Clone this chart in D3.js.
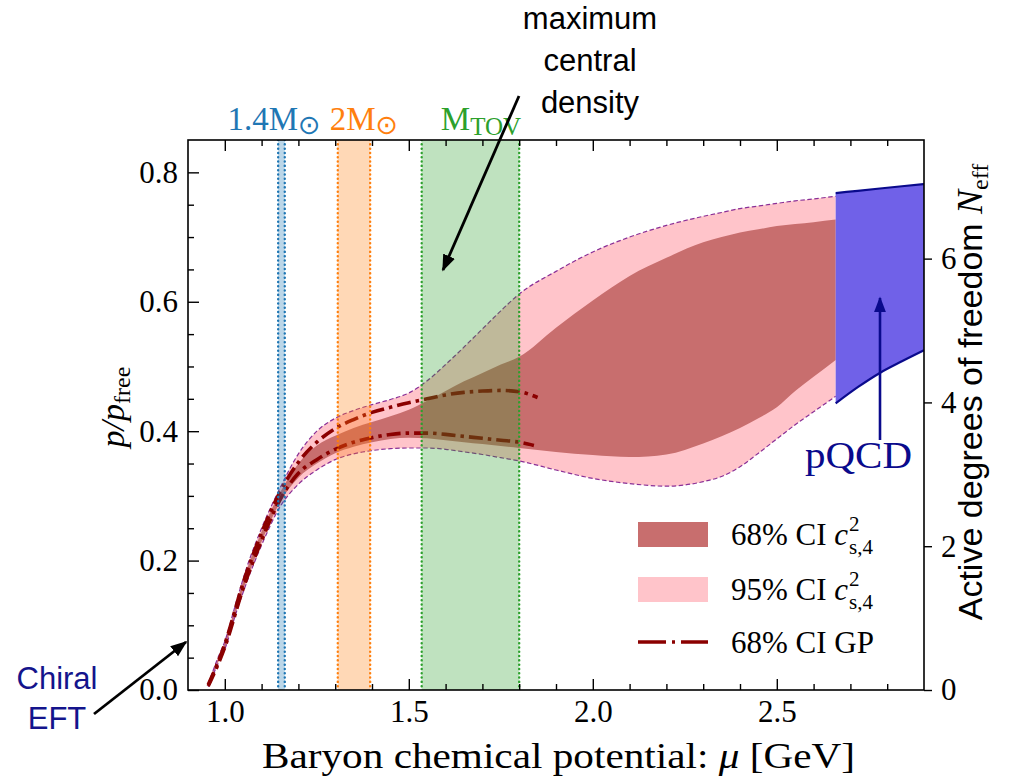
<!DOCTYPE html>
<html><head><meta charset="utf-8">
<script src="https://cdn.jsdelivr.net/npm/d3@7"></script>
<style>body{margin:0;background:#fff}svg{display:block}</style>
</head><body>
<svg id="c" width="1009" height="778"></svg>
<script>
// ---------- data ----------
const muBand = [0.955,0.98,1.0,1.03,1.06,1.1,1.15,1.2,1.25,1.3,1.35,1.4,1.45,1.5,1.55,1.6,1.65,1.7,1.75,1.8,1.9,2.0,2.1,2.2,2.3,2.35,2.4,2.45,2.5,2.55,2.6,2.66];
const ci95Upper = [0.009,0.048,0.075,0.134,0.19,0.25,0.312,0.365,0.40,0.42,0.432,0.441,0.449,0.459,0.478,0.503,0.530,0.558,0.586,0.612,0.647,0.677,0.70,0.718,0.732,0.738,0.744,0.748,0.752,0.756,0.759,0.763];
const ci95Lower = [0.005,0.039,0.063,0.118,0.167,0.224,0.283,0.318,0.34,0.356,0.365,0.37,0.373,0.374,0.374,0.372,0.368,0.364,0.359,0.354,0.34,0.327,0.319,0.315,0.322,0.33,0.345,0.366,0.388,0.41,0.43,0.454];
const ci68Upper = [0.008,0.046,0.073,0.131,0.186,0.245,0.305,0.35,0.378,0.393,0.405,0.414,0.423,0.433,0.447,0.462,0.477,0.49,0.503,0.515,0.56,0.602,0.64,0.668,0.692,0.70,0.707,0.712,0.717,0.72,0.723,0.727];
const ci68Lower = [0.006,0.041,0.065,0.121,0.171,0.229,0.29,0.328,0.35,0.366,0.376,0.383,0.388,0.39,0.389,0.386,0.383,0.38,0.377,0.374,0.368,0.363,0.36,0.364,0.381,0.392,0.405,0.42,0.437,0.462,0.484,0.51];
const muGPUpper = [0.955,1.0,1.05,1.1,1.15,1.2,1.25,1.3,1.35,1.4,1.45,1.5,1.55,1.6,1.65,1.7,1.75,1.8,1.85];
const gpUpper = [0.008,0.071,0.166,0.243,0.306,0.352,0.383,0.404,0.418,0.429,0.437,0.444,0.45,0.456,0.46,0.462,0.463,0.461,0.452];
const muGPLower = [0.955,1.0,1.05,1.1,1.15,1.2,1.25,1.3,1.35,1.4,1.45,1.5,1.55,1.6,1.65,1.7,1.75,1.8,1.84];
const gpLower = [0.006,0.066,0.157,0.231,0.294,0.335,0.356,0.372,0.383,0.39,0.395,0.397,0.397,0.395,0.392,0.389,0.386,0.383,0.378];
const muPQCD = [2.66,2.72,2.78,2.84,2.9];
const pqcdUpper = [0.768,0.7715,0.775,0.7785,0.782];
const pqcdLower = [0.443,0.468,0.49,0.508,0.525];
// vertical mass bands: [mu_min, mu_max]
const bandLo = [1.145,1.307,1.535];
const bandHi = [1.163,1.395,1.80];
// ticks
const xMajor = [1.0,1.5,2.0,2.5];
const xMajorLabels = ["1.0","1.5","2.0","2.5"];
const xMinor = [1.1,1.2,1.3,1.4,1.6,1.7,1.8,1.9,2.1,2.2,2.3,2.4,2.6,2.7,2.8];
const yMajor = [0.0,0.2,0.4,0.6,0.8];
const yMajorLabels = ["0.0","0.2","0.4","0.6","0.8"];
const yMinor = [0.05,0.1,0.15,0.25,0.3,0.35,0.45,0.5,0.55,0.65,0.7,0.75];
const nMajor = [0,2,4,6];
const nMajorLabels = ["0","2","4","6"];

// ---------- layout ----------
const svg = d3.select("#c");
const X0=188, X1=924, Y0=690, Y1=140;
const x = d3.scaleLinear().domain([0.9,2.9]).range([X0,X1]);
const y = d3.scaleLinear().domain([0,0.85]).range([Y0,Y1]);
const yN = d3.scaleLinear().domain([0,7.65]).range([Y0,Y1]);
const SERIF = "'Liberation Serif','DejaVu Serif',serif";
const SANS = "'Liberation Sans',Arial,sans-serif";

svg.append("clipPath").attr("id","pc").append("rect")
  .attr("x",X0).attr("y",Y1).attr("width",X1-X0).attr("height",Y0-Y1);
const plot = svg.append("g").attr("clip-path","url(#pc)");

const band = (mu, lo, hi) => mu.map((m,i)=>({mu:m, lo:lo[i], hi:hi[i]}));
const area = d3.area().x(d=>x(d.mu)).y0(d=>y(d.lo)).y1(d=>y(d.hi)).curve(d3.curveMonotoneX);
const lineF = d3.line().x(d=>x(d.mu)).y(d=>y(d.v)).curve(d3.curveMonotoneX);

const b95 = band(muBand, ci95Lower, ci95Upper);
const b68 = band(muBand, ci68Lower, ci68Upper);
plot.append("path").attr("d", area(b95)).attr("fill","#ffc4ca");
plot.append("path").attr("d", area(b68)).attr("fill","#c86e6e");
["lo","hi"].forEach(k=>{
  plot.append("path").attr("d", d3.line().x(d=>x(d.mu)).y(d=>y(d[k])).curve(d3.curveMonotoneX)(b95))
    .attr("fill","none").attr("stroke","#8a2f96").attr("stroke-width",1.2).attr("stroke-dasharray","4.5,2.5");
});
[[muGPUpper,gpUpper],[muGPLower,gpLower]].forEach(([m,v])=>{
  plot.append("path").attr("d", lineF(m.map((mm,i)=>({mu:mm,v:v[i]}))))
    .attr("fill","none").attr("stroke","#8b0000").attr("stroke-width",3.6)
    .attr("stroke-dasharray","14,5,3.5,5");
});
// pQCD
const bq = band(muPQCD, pqcdLower, pqcdUpper);
plot.append("path").attr("d", area(bq)).attr("fill","#7061e8");
["lo","hi"].forEach(k=>{
  plot.append("path").attr("d", d3.line().x(d=>x(d.mu)).y(d=>y(d[k])).curve(d3.curveMonotoneX)(bq))
    .attr("fill","none").attr("stroke","#0a0a8c").attr("stroke-width",2.2);
});
// vertical bands
const bandFill = ["rgba(31,119,180,0.3)","rgba(255,127,14,0.3)","rgba(44,160,44,0.3)"];
const bandStroke = ["#1f77b4","#ff7f0e","#2ca02c"];
bandLo.forEach((lo,i)=>{
  plot.append("rect").attr("x",x(lo)).attr("y",Y1).attr("width",x(bandHi[i])-x(lo)).attr("height",Y0-Y1)
    .attr("fill",bandFill[i]);
  [lo,bandHi[i]].forEach(v=>{
    plot.append("line").attr("x1",x(v)).attr("x2",x(v)).attr("y1",Y1).attr("y2",Y0)
      .attr("stroke",bandStroke[i]).attr("stroke-width",2.4).attr("stroke-linecap","round")
      .attr("stroke-dasharray","0.1,4.2");
  });
});

// ---------- axes ----------
function styleAxis(g){ g.select(".domain").remove(); g.selectAll("line").attr("stroke","#000").attr("stroke-width",1.4);
  g.selectAll("text").attr("font-family",SERIF).attr("font-size",31).attr("fill","#000"); }
svg.append("g").attr("transform",`translate(0,${Y0})`)
  .call(d3.axisBottom(x).tickValues(xMajor).tickFormat((d,i)=>xMajorLabels[i]).tickSizeInner(-11).tickSizeOuter(0).tickPadding(10)).call(styleAxis);
svg.append("g").attr("transform",`translate(0,${Y0})`)
  .call(d3.axisBottom(x).tickValues(xMinor).tickFormat("").tickSizeInner(-6).tickSizeOuter(0)).call(styleAxis);
svg.append("g").attr("transform",`translate(0,${Y1})`)
  .call(d3.axisTop(x).tickValues(xMajor).tickFormat("").tickSizeInner(-11).tickSizeOuter(0)).call(styleAxis);
svg.append("g").attr("transform",`translate(0,${Y1})`)
  .call(d3.axisTop(x).tickValues(xMinor).tickFormat("").tickSizeInner(-6).tickSizeOuter(0)).call(styleAxis);
svg.append("g").attr("transform",`translate(${X0},0)`)
  .call(d3.axisLeft(y).tickValues(yMajor).tickFormat((d,i)=>yMajorLabels[i]).tickSizeInner(-11).tickSizeOuter(0).tickPadding(10)).call(styleAxis);
svg.append("g").attr("transform",`translate(${X0},0)`)
  .call(d3.axisLeft(y).tickValues(yMinor).tickFormat("").tickSizeInner(-6).tickSizeOuter(0)).call(styleAxis);
svg.append("g").attr("transform",`translate(${X1},0)`)
  .call(d3.axisRight(yN).tickValues(nMajor).tickFormat((d,i)=>nMajorLabels[i]).tickSizeInner(8).tickSizeOuter(0).tickPadding(9)).call(styleAxis);
svg.append("rect").attr("x",X0).attr("y",Y1).attr("width",X1-X0).attr("height",Y0-Y1)
  .attr("fill","none").attr("stroke","#000").attr("stroke-width",1.6);

// axis titles
const xt = svg.append("text").attr("x",262).attr("y",768)
  .attr("font-family",SERIF).attr("font-size",35)
  .attr("textLength",593).attr("lengthAdjust","spacingAndGlyphs");
xt.append("tspan").text("Baryon chemical potential: ");
xt.append("tspan").attr("font-style","italic").text("μ");
xt.append("tspan").text(" [GeV]");
const yt = svg.append("text").attr("transform","translate(124,407) rotate(-90)").attr("text-anchor","middle")
  .attr("font-family",SERIF).attr("font-size",34);
yt.append("tspan").attr("font-style","italic").text("p/p");
yt.append("tspan").attr("font-size",24).attr("dy",6).text("free");
const rt = svg.append("text").attr("transform","translate(982,392) rotate(-90)").attr("text-anchor","middle")
  .attr("font-family",SANS).attr("font-size",34);
rt.append("tspan").text("Active degrees of freedom ");
rt.append("tspan").attr("font-family",SERIF).attr("font-style","italic").attr("font-size",36).text("N");
rt.append("tspan").attr("font-family",SERIF).attr("font-size",24).attr("dy",6).text("eff");

// ---------- band labels ----------
const topY = 130;
function massLabel(xc, color, main, sub, isSun){
  const t = svg.append("text").attr("x",xc).attr("y",topY).attr("text-anchor","middle")
    .attr("font-family",SERIF).attr("font-size",33).attr("fill",color);
  t.append("tspan").text(main);
  if(isSun) t.append("tspan").attr("font-size",27).attr("dy",4).attr("font-family","'DejaVu Sans',sans-serif").text("⊙");
  else t.append("tspan").attr("font-size",25).attr("dy",5).text(sub);
}
massLabel(274, bandStroke[0], "1.4M", "", true);
massLabel(364, bandStroke[1], "2M", "", true);
massLabel(481, bandStroke[2], "M", "TOV", false);

// ---------- annotations ----------
const defs = svg.append("defs");
function marker(id, color){
  defs.append("marker").attr("id",id).attr("viewBox","0 0 10 10").attr("refX",9).attr("refY",5)
    .attr("markerWidth",6).attr("markerHeight",6).attr("markerUnits","strokeWidth").attr("orient","auto")
    .append("path").attr("d","M0,1.2 L10,5 L0,8.8 Z").attr("fill",color);
}
marker("ak","#000"); marker("an","#0a0a8c");
["maximum","central","density"].forEach((s,i)=>{
  svg.append("text").attr("x",590).attr("y",29+i*42).attr("text-anchor","middle")
    .attr("font-family",SANS).attr("font-size",31).attr("fill","#000").text(s);
});
svg.append("line").attr("x1",519).attr("y1",96).attr("x2",443).attr("y2",270)
  .attr("stroke","#000").attr("stroke-width",2.8).attr("marker-end","url(#ak)");
["Chiral","EFT"].forEach((s,i)=>{
  svg.append("text").attr("x",57).attr("y",689+i*40).attr("text-anchor","middle")
    .attr("font-family",SANS).attr("font-size",31).attr("fill","#14148c").text(s);
});
svg.append("line").attr("x1",94).attr("y1",714).attr("x2",186).attr("y2",642)
  .attr("stroke","#000").attr("stroke-width",2.8).attr("marker-end","url(#ak)");
svg.append("text").attr("x",805).attr("y",468)
  .attr("font-family",SERIF).attr("font-size",37).attr("fill","#0a0a8c")
  .attr("textLength",107).attr("lengthAdjust","spacingAndGlyphs").text("pQCD");
svg.append("line").attr("x1",880).attr("y1",440).attr("x2",880).attr("y2",298)
  .attr("stroke","#0a0a8c").attr("stroke-width",2.6).attr("marker-end","url(#an)");

// ---------- legend ----------
const lg = svg.append("g");
const legY = [534, 589, 642];
lg.append("rect").attr("x",638).attr("y",legY[0]-12).attr("width",70).attr("height",25).attr("fill","#c86e6e");
lg.append("rect").attr("x",638).attr("y",legY[1]-12).attr("width",70).attr("height",25).attr("fill","#ffc4ca");
lg.append("line").attr("x1",638).attr("x2",708).attr("y1",legY[2]).attr("y2",legY[2])
  .attr("stroke","#8b0000").attr("stroke-width",3.4).attr("stroke-dasharray","28,6,3,6");
function legText(yy, a, math){
  const t = lg.append("text").attr("x",731).attr("y",yy+11).attr("font-family",SERIF).attr("font-size",31);
  t.append("tspan").text(a);
  if(math){
    t.append("tspan").attr("font-style","italic").text("c");
    const w = t.node().getComputedTextLength();
    lg.append("text").attr("x",731+w+1).attr("y",yy-3).attr("font-family",SERIF).attr("font-size",21).text("2");
    lg.append("text").attr("x",731+w+1).attr("y",yy+20).attr("font-family",SERIF).attr("font-size",21).text("s,4");
  }
}
legText(legY[0], "68% CI ", true);
legText(legY[1], "95% CI ", true);
legText(legY[2], "68% CI GP", false);
</script>
</body></html>
